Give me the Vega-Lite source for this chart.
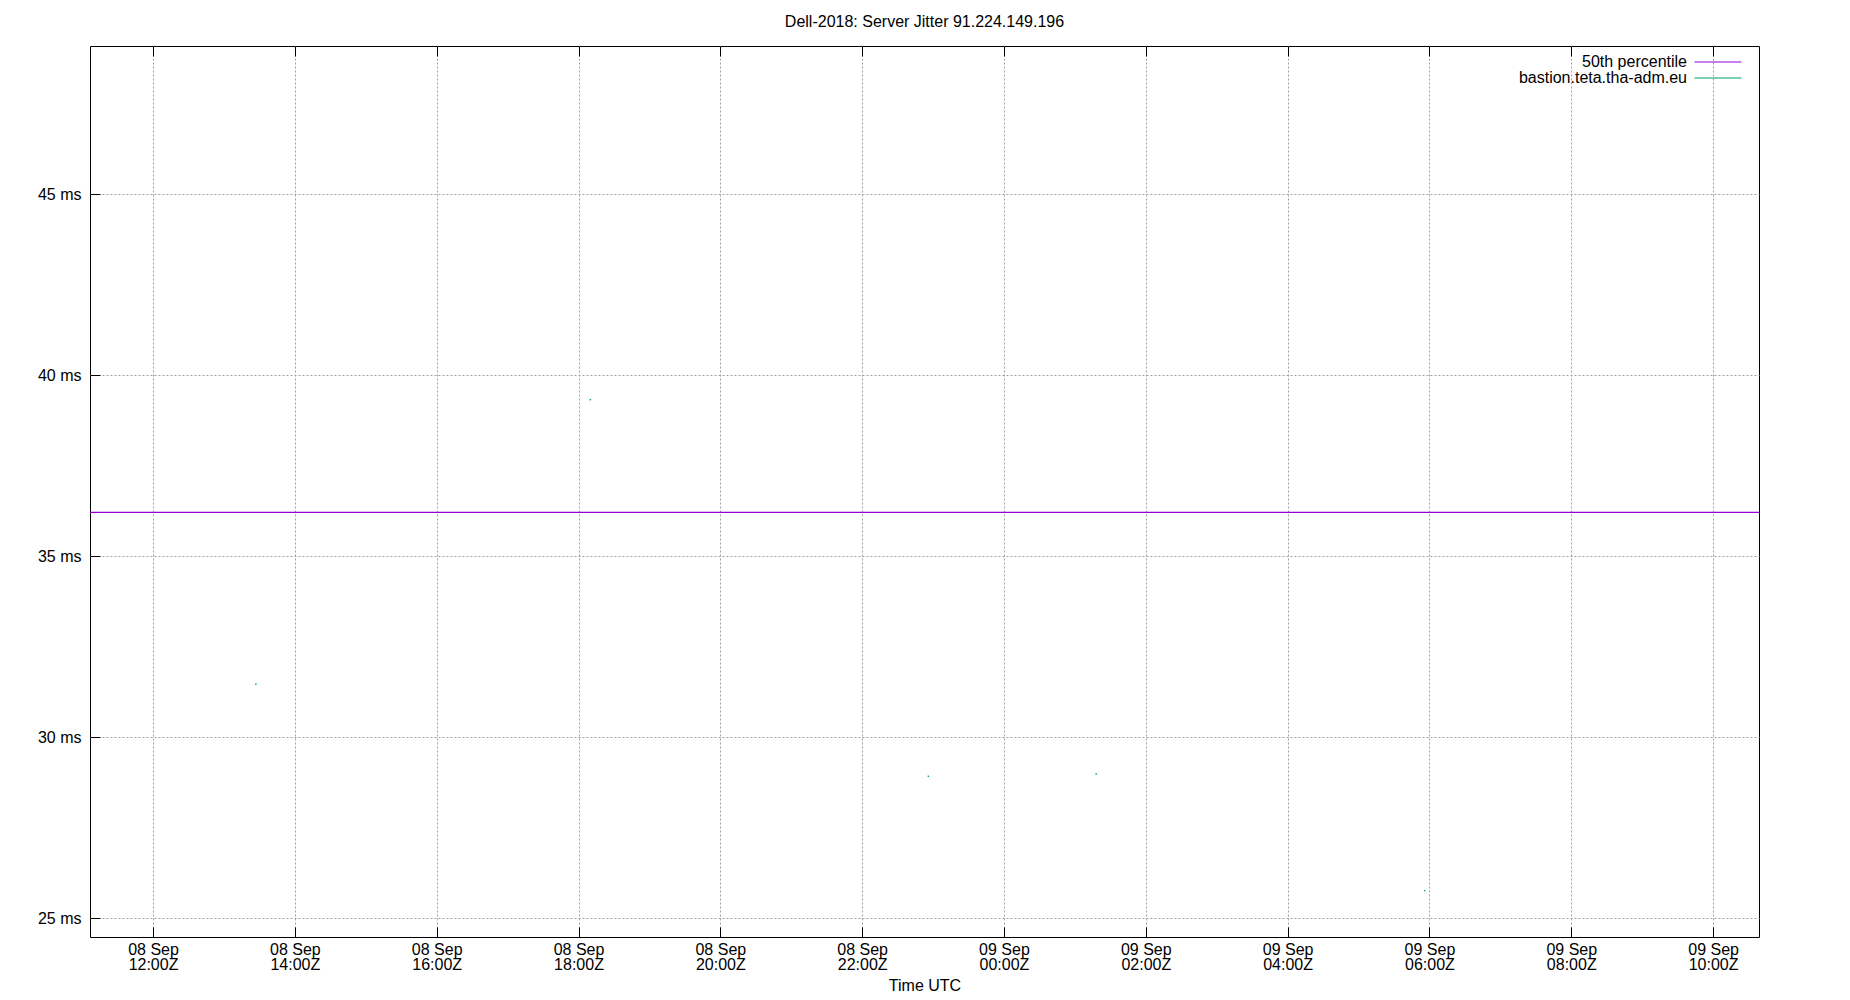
{
  "$schema": "https://vega.github.io/schema/vega-lite/v6.json",
  "width": 1669,
  "height": 891,
  "autosize": "none",
  "padding": {"left": 90, "top": 46, "right": 91, "bottom": 63},
  "background": "white",
  "title": {
    "text": "Dell-2018: Server Jitter 91.224.149.196",
    "font": "Liberation Sans",
    "fontSize": 16,
    "fontWeight": "normal",
    "color": "black",
    "anchor": "middle",
    "baseline": "alphabetic",
    "offset": 3
  },
  "config": {
    "view": {"stroke": "black", "strokeWidth": 1},
    "axis": {
      "domain": false,
      "tickColor": "black",
      "tickWidth": 1,
      "tickSize": -10,
      "gridColor": "#a0a0a0",
      "gridDash": [2, 2],
      "gridWidth": 1,
      "labelFont": "Liberation Sans",
      "labelFontSize": 16,
      "labelColor": "black",
      "labelLineHeight": 15.4,
      "titleFont": "Liberation Sans",
      "titleFontSize": 16,
      "titleFontWeight": "normal",
      "titleColor": "black"
    }
  },
  "datasets": {
    "median": [
      {"series": "50th percentile", "ms": 36.21}
    ],
    "jitter": [
      {"series": "bastion.teta.tha-adm.eu", "time": "2018-09-08T13:27:00Z", "ms": 31.46},
      {"series": "bastion.teta.tha-adm.eu", "time": "2018-09-08T18:10:00Z", "ms": 39.32},
      {"series": "bastion.teta.tha-adm.eu", "time": "2018-09-08T22:56:00Z", "ms": 28.92},
      {"series": "bastion.teta.tha-adm.eu", "time": "2018-09-09T01:18:00Z", "ms": 28.98},
      {"series": "bastion.teta.tha-adm.eu", "time": "2018-09-09T05:56:00Z", "ms": 25.76}
    ],
    "hours": [
      {"t": "2018-09-08T12:00:00Z"},
      {"t": "2018-09-09T10:00:00Z"}
    ]
  },
  "layer": [
    {
      "data": {"name": "median"},
      "mark": {"type": "rule", "strokeWidth": 1.2},
      "encoding": {
        "y": {
          "field": "ms",
          "type": "quantitative",
          "scale": {"domain": [24.48, 49.09], "nice": false, "zero": false},
          "axis": {
            "orient": "left",
            "title": null,
            "values": [25, 30, 35, 40, 45],
            "labelExpr": "datum.value + ' ms'",
            "grid": true,
            "labelPadding": 19
          }
        },
        "color": {
          "field": "series",
          "type": "nominal",
          "scale": {
            "domain": ["50th percentile", "bastion.teta.tha-adm.eu"],
            "range": ["#9400d3", "#009e73"]
          },
          "legend": {
            "orient": "none",
            "legendX": 1620,
            "legendY": 8,
            "title": null,
            "padding": 0,
            "rowPadding": -1.5,
            "symbolType": "M-4.7,0H4.7",
            "symbolSize": 100,
            "symbolStrokeWidth": 1.2,
            "labelAlign": "right",
            "labelOffset": -39,
            "labelFont": "Liberation Sans",
            "labelFontSize": 16,
            "labelColor": "black",
            "labelLimit": 0
          }
        }
      }
    },
    {
      "data": {"name": "jitter"},
      "mark": {"type": "square", "size": 2, "filled": true, "color": "#009e73", "opacity": 1},
      "encoding": {
        "x": {
          "field": "time",
          "type": "temporal",
          "scale": {
            "type": "utc",
            "domain": [
              {"year": 2018, "month": 9, "date": 8, "hours": 11, "minutes": 6, "seconds": 40, "utc": true},
              {"year": 2018, "month": 9, "date": 9, "hours": 10, "minutes": 38, "seconds": 50, "utc": true}
            ]
          },
          "axis": {
            "orient": "bottom",
            "title": "Time UTC",
            "values": [
              {"year": 2018, "month": 9, "date": 8, "hours": 12, "utc": true},
              {"year": 2018, "month": 9, "date": 8, "hours": 14, "utc": true},
              {"year": 2018, "month": 9, "date": 8, "hours": 16, "utc": true},
              {"year": 2018, "month": 9, "date": 8, "hours": 18, "utc": true},
              {"year": 2018, "month": 9, "date": 8, "hours": 20, "utc": true},
              {"year": 2018, "month": 9, "date": 8, "hours": 22, "utc": true},
              {"year": 2018, "month": 9, "date": 9, "hours": 0, "utc": true},
              {"year": 2018, "month": 9, "date": 9, "hours": 2, "utc": true},
              {"year": 2018, "month": 9, "date": 9, "hours": 4, "utc": true},
              {"year": 2018, "month": 9, "date": 9, "hours": 6, "utc": true},
              {"year": 2018, "month": 9, "date": 9, "hours": 8, "utc": true},
              {"year": 2018, "month": 9, "date": 9, "hours": 10, "utc": true}
            ],
            "labelExpr": "[utcFormat(datum.value, '%d %b'), utcFormat(datum.value, '%H:%MZ')]",
            "grid": true,
            "labelPadding": 14,
            "labelFlush": false,
            "titlePadding": 5
          }
        },
        "y": {
          "field": "ms",
          "type": "quantitative",
          "scale": {"domain": [24.48, 49.09], "nice": false, "zero": false},
          "axis": null
        }
      }
    },
    {
      "data": {"name": "hours"},
      "mark": {"type": "square", "size": 1, "opacity": 0},
      "encoding": {
        "x": {
          "field": "t",
          "type": "temporal",
          "scale": {"type": "utc"},
          "axis": {
            "orient": "top",
            "title": null,
            "values": [
              {"year": 2018, "month": 9, "date": 8, "hours": 12, "utc": true},
              {"year": 2018, "month": 9, "date": 8, "hours": 14, "utc": true},
              {"year": 2018, "month": 9, "date": 8, "hours": 16, "utc": true},
              {"year": 2018, "month": 9, "date": 8, "hours": 18, "utc": true},
              {"year": 2018, "month": 9, "date": 8, "hours": 20, "utc": true},
              {"year": 2018, "month": 9, "date": 8, "hours": 22, "utc": true},
              {"year": 2018, "month": 9, "date": 9, "hours": 0, "utc": true},
              {"year": 2018, "month": 9, "date": 9, "hours": 2, "utc": true},
              {"year": 2018, "month": 9, "date": 9, "hours": 4, "utc": true},
              {"year": 2018, "month": 9, "date": 9, "hours": 6, "utc": true},
              {"year": 2018, "month": 9, "date": 9, "hours": 8, "utc": true},
              {"year": 2018, "month": 9, "date": 9, "hours": 10, "utc": true}
            ],
            "labels": false,
            "grid": false
          }
        },
        "y": {"datum": 30, "type": "quantitative", "axis": null}
      }
    }
  ],
  "resolve": {"axis": {"x": "independent", "y": "independent"}}
}
